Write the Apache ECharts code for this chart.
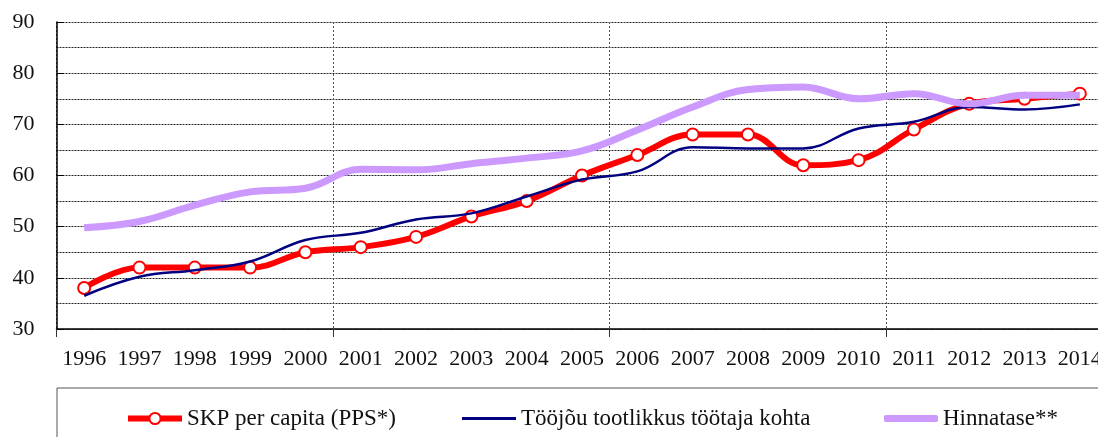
<!DOCTYPE html>
<html><head><meta charset="utf-8">
<script src="https://cdn.jsdelivr.net/npm/echarts@6/dist/echarts.min.js"></script>
<style>html,body{margin:0;padding:0;background:#fff;overflow:hidden;width:1098px;height:437px}#c{width:1112px;height:437px}</style>
</head><body><div id="c"></div>
<script>
const years = ['1996','1997','1998','1999','2000','2001','2002','2003','2004','2005','2006','2007','2008','2009','2010','2011','2012','2013','2014'];
const skp = [38,42,42,42,45,46,48,52,55,60,64,68,68,62,63,69,74,75,76];
const tootlikkus = [36.5,40.2,41.5,43.2,47.4,48.8,51.4,52.6,55.9,59.2,60.8,65.5,65.3,65.3,69.2,70.5,73.4,72.9,73.9];
const hinnatase = [49.8,51,54.2,56.8,57.5,61.2,61.1,62.3,63.4,64.8,68.9,73.4,76.8,77.3,75,76,74,75.7,75.7];
const names = ['SKP per capita (PPS*)','Tööjõu tootlikkus töötaja kohta','Hinnatase**'];
const FONT = 'Liberation Serif';
const chart = echarts.init(document.getElementById('c'));
const legendText = {fontFamily: FONT, fontSize: 23, color: '#111'};
chart.setOption({
  animation: false,
  textStyle: {fontFamily: FONT},
  grid: {left: 56.5, right: 4.5, top: 22, bottom: 108},
  graphic: [{type: 'rect', shape: {x: 57, y: 388, width: 1100, height: 80}, style: {fill: 'none', stroke: '#555', lineWidth: 1}, z: 0}],
  legend: [
    {data: [names[0]], left: 120, top: 402, itemWidth: 54, itemHeight: 14, textStyle: legendText,
     lineStyle: {width: 6}},
    {data: [{name: names[1], icon: 'rect'}], left: 457, top: 402, itemWidth: 54, itemHeight: 3, textStyle: legendText},
    {data: [{name: names[2], icon: 'roundRect'}], left: 879, top: 402, itemWidth: 54, itemHeight: 7, textStyle: legendText}
  ],
  xAxis: {
    type: 'category', data: years, boundaryGap: true,
    axisLine: {lineStyle: {color: '#000', width: 1.5}},
    axisTick: {show: true, interval: (i) => i % 5 === 0, length: 8, lineStyle: {color: '#333'}},
    axisLabel: {interval: 0, fontFamily: FONT, fontSize: 22, color: '#111', margin: 19},
    splitLine: {show: true, interval: (i) => i % 5 === 0, lineStyle: {color: '#555', type: [2, 2], width: 1}}
  },
  yAxis: {
    type: 'value', min: 30, max: 90, interval: 10,
    axisLine: {show: true, lineStyle: {color: '#000', width: 1.5}},
    axisTick: {show: true, inside: true, length: 7, lineStyle: {color: '#000'}},
    axisLabel: {fontFamily: FONT, fontSize: 22, color: '#111', margin: 22},
    splitLine: {show: true, lineStyle: {color: '#222', type: [2, 1], width: 1}},
    minorTick: {show: false, splitNumber: 2},
    minorSplitLine: {show: true, lineStyle: {color: '#222', type: [2, 1], width: 1}}
  },
  series: [
    {name: names[0], type: 'line', data: skp, smooth: 0.4, lineStyle: {color: '#ff0000', width: 6},
     itemStyle: {color: '#fff', borderColor: '#ff0000', borderWidth: 2},
     symbol: 'circle', symbolSize: 12, showSymbol: true, z: 2},
    {name: names[1], type: 'line', data: tootlikkus, smooth: 0.4, lineStyle: {color: '#000080', width: 2.5},
     itemStyle: {color: '#000080'}, symbol: 'none', z: 3},
    {name: names[2], type: 'line', data: hinnatase, smooth: 0.4, lineStyle: {color: '#cc99ff', width: 7},
     itemStyle: {color: '#cc99ff'}, symbol: 'none', z: 4}
  ]
});
</script></body></html>
